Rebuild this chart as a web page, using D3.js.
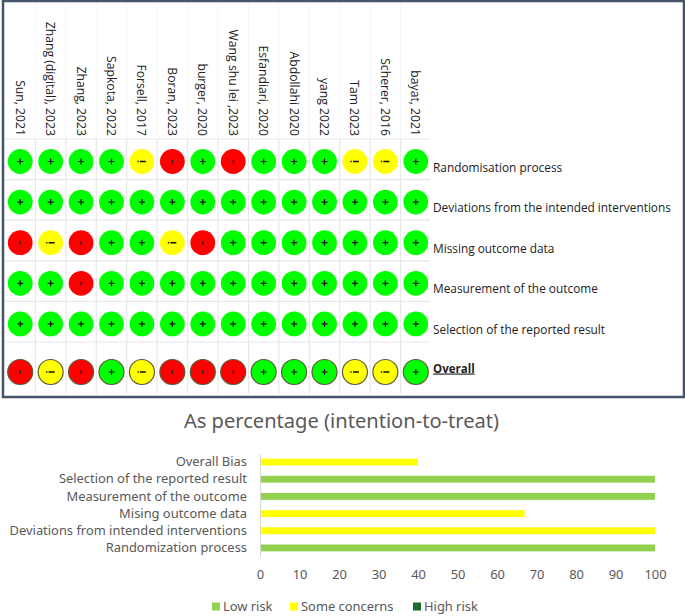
<!DOCTYPE html>
<html>
<head>
<meta charset="utf-8">
<script src="https://cdn.jsdelivr.net/npm/d3@7"></script>
<style>
body { margin: 0; background: #fff; }
svg { display: block; }
</style>
</head>
<body>
<svg width="685" height="616"></svg>
<script>
var studies = ['Sun, 2021', 'Zhang (digital), 2023', 'Zhang, 2023', 'Sapkota, 2022', 'Forsell, 2017', 'Boran, 2023', 'burger, 2020', 'Wang shu lei ,2023', 'Esfandiari, 2020', 'Abdollahi 2020', 'yang 2022', 'Tam 2023', 'Scherer, 2016', 'bayat, 2021']
var domains = ['Randomisation process', 'Deviations from the intended interventions', 'Missing outcome data', 'Measurement of the outcome', 'Selection of the reported result']

// one judgement per study: L low, S some concerns, H high
var randomisation = ['L','L','L','L','S','H','L','H','L','L','L','S','S','L']
var deviations    = ['L','L','L','L','L','L','L','L','L','L','L','L','L','L']
var missing       = ['H','S','H','L','L','S','H','L','L','L','L','L','L','L']
var measurement   = ['L','L','H','L','L','L','L','L','L','L','L','L','L','L']
var selection     = ['L','L','L','L','L','L','L','L','L','L','L','L','L','L']
var overall       = ['H','S','H','L','S','H','H','H','L','L','L','S','S','L']

var barCategories = ['Overall Bias', 'Selection of the reported result', 'Measurement of the outcome', 'Mising outcome data', 'Deviations from intended interventions', 'Randomization process']
var lowRisk  = [0, 100, 100, 0, 0, 100]
var someRisk = [40, 0, 0, 67, 100, 0]
var highRisk = [0, 0, 0, 0, 0, 0]
var barTicks = [0, 10, 20, 30, 40, 50, 60, 70, 80, 90, 100]
var seriesNames = ['Low risk', 'Some concerns', 'High risk']

var svg = d3.select('svg')
var tableFont = '"Open Sans", sans-serif'
var chartFont = '"Noto Sans", sans-serif'

var mapX = d3.scaleBand().domain(studies).range([5, 431])
var mapRow = d3.scaleBand().domain(domains).range([139, 342])
var overallRow = d3.scaleBand().domain(['Overall']).range([342, 402])
var judgeColor = d3.scaleOrdinal().domain(['L', 'S', 'H']).range(['#00ff00', '#ffff00', '#ff0000'])

// grid of the table
var gridColor = '#e8e8e8'
var gridRows = mapRow.domain().map(function(d){ return mapRow(d) }).concat([342])
svg.append('g').selectAll('line')
    .data(gridRows)
    .enter()
    .append('line')
    .attr('x1', 5)
    .attr('x2', 430)
    .attr('y1', function(d){ return d })
    .attr('y2', function(d){ return d })
    .style('stroke', gridColor)
    .style('stroke-width', 1.2)

svg.append('g').selectAll('line')
    .data(studies.slice(1))
    .enter()
    .append('line')
    .attr('x1', function(d){ return mapX(d) })
    .attr('x2', function(d){ return mapX(d) })
    .attr('y1', 139)
    .attr('y2', 394)
    .style('stroke', gridColor)
    .style('stroke-width', 1.2)

// the column lines carry on very faintly behind the names
svg.append('g').selectAll('line')
    .data(studies.slice(1))
    .enter()
    .append('line')
    .attr('x1', function(d){ return mapX(d) })
    .attr('x2', function(d){ return mapX(d) })
    .attr('y1', 3)
    .attr('y2', 139)
    .style('stroke', '#f6f6f6')

// study names
svg.append('g').selectAll('text')
    .data(studies)
    .enter()
    .append('text')
    .text(function(d){ return d })
    .attr('transform', function(d){
        return `translate(${mapX(d) + mapX.bandwidth() / 2 - 4.5}, 136) rotate(90)`
    })
    .attr('text-anchor', 'end')
    .style('font-family', tableFont)
    .style('font-size', '12.2px')
    .style('fill', '#222')

function drawRow(values, cy, r, outlined){
    var g = svg.append('g')
        .selectAll('g')
        .data(values)
        .enter()
        .append('g')
        .attr('transform', function(d, i){
            return `translate(${mapX(studies[i]) + mapX.bandwidth() / 2}, ${cy})`
        })

    g.append('circle')
        .attr('r', r)
        .style('fill', function(d){ return judgeColor(d) })
        .style('stroke', outlined ? '#5a5a3c' : 'none')
        .style('stroke-width', outlined ? 1.2 : 0)

    // plus sign
    g.filter(function(d){ return d == 'L' })
        .append('path')
        .attr('d', 'M-3,0H3M0,-3V3')
        .style('stroke', '#111')
        .style('stroke-width', 1.2)

    // dash with dot
    g.filter(function(d){ return d == 'S' })
        .append('path')
        .attr('d', 'M-4.5,0H-3.2M-2,0H4')
        .style('stroke', '#111')
        .style('stroke-width', 1.5)

    // short bar
    g.filter(function(d){ return d == 'H' })
        .append('path')
        .attr('d', 'M0,-1.5V2')
        .style('stroke', '#222')
        .style('stroke-width', 1.5)
}

var rowValues = [randomisation, deviations, missing, measurement, selection]
domains.forEach(function(name, i){
    var cy = mapRow(name) + mapRow.bandwidth() / 2 + 2.2
    drawRow(rowValues[i], cy, 12.4, false)
    svg.append('text')
        .text(name)
        .attr('x', 433)
        .attr('y', cy + 10)
        .style('font-family', tableFont)
        .style('font-size', '11.85px')
        .style('fill', '#222')
})

drawRow(overall, overallRow('Overall') + overallRow.bandwidth() / 2, 12.5, true)
svg.append('text')
    .text('Overall')
    .attr('x', 433)
    .attr('y', 372.5)
    .style('font-family', tableFont)
    .style('font-size', '11.5px')
    .style('font-weight', 'bold')
    .style('text-decoration', 'underline')
    .style('fill', '#222')

// frame around the table
svg.append('rect')
    .attr('x', 3)
    .attr('y', 1)
    .attr('width', 681)
    .attr('height', 396)
    .style('fill', 'none')
    .style('stroke', '#44546a')
    .style('stroke-width', 2.5)

// stacked bars
svg.append('text')
    .text('As percentage (intention-to-treat)')
    .attr('x', 341.5)
    .attr('y', 428)
    .attr('text-anchor', 'middle')
    .style('font-family', chartFont)
    .style('font-size', '20.1px')
    .style('fill', '#595959')

var table = barCategories.map(function(d, i){
    return { name: d, low: lowRisk[i], some: someRisk[i], high: highRisk[i] }
})
var stacked = d3.stack().keys(['low', 'some', 'high'])(table)

var barX = d3.scaleLinear().domain([0, 100]).range([260, 655])
var barY = d3.scaleBand().domain(barCategories).range([453.5, 556.5]).paddingInner(0.6).paddingOuter(0.3)
var barColor = d3.scaleOrdinal().domain(['low', 'some', 'high']).range(['#92d050', '#ffff00', '#1e6b2d'])

var layers = svg.append('g')
    .selectAll('g')
    .data(stacked)
    .enter()
    .append('g')
    .style('fill', function(d){ return barColor(d.key) })

layers.selectAll('rect')
    .data(function(d){ return d })
    .enter()
    .append('rect')
    .attr('x', function(d){ return barX(d[0]) })
    .attr('y', function(d){ return barY(d.data.name) })
    .attr('width', function(d){ return barX(d[1]) - barX(d[0]) })
    .attr('height', barY.bandwidth())

var axisY = d3.axisLeft(barY).tickSize(0).tickPadding(13)
var gy = svg.append('g')
    .attr('transform', 'translate(260, 0)')
    .call(axisY)
gy.select('.domain').style('stroke', '#d9d9d9')
gy.selectAll('text')
    .style('font-family', chartFont)
    .style('font-size', '12.9px')
    .style('fill', '#595959')

var axisX = d3.axisBottom(barX).tickValues(barTicks).tickSize(0).tickPadding(13)
var gx = svg.append('g')
    .attr('transform', 'translate(0, 557)')
    .call(axisX)
gx.select('.domain').remove()
gx.selectAll('text')
    .style('font-family', chartFont)
    .style('font-size', '12.9px')
    .style('fill', '#595959')

// legend
var legendX = d3.scaleOrdinal().domain(seriesNames).range([212, 290, 413])
var legend = svg.append('g')
    .selectAll('g')
    .data(seriesNames)
    .enter()
    .append('g')
    .attr('transform', function(d){ return `translate(${legendX(d)}, 606.5)` })

legend.append('rect')
    .attr('y', -4)
    .attr('width', 8)
    .attr('height', 8)
    .style('fill', function(d, i){ return barColor.range()[i] })

legend.append('text')
    .text(function(d){ return d })
    .attr('x', 11)
    .attr('y', 4.5)
    .style('font-family', chartFont)
    .style('font-size', '12.9px')
    .style('fill', '#595959')
</script>
</body>
</html>
